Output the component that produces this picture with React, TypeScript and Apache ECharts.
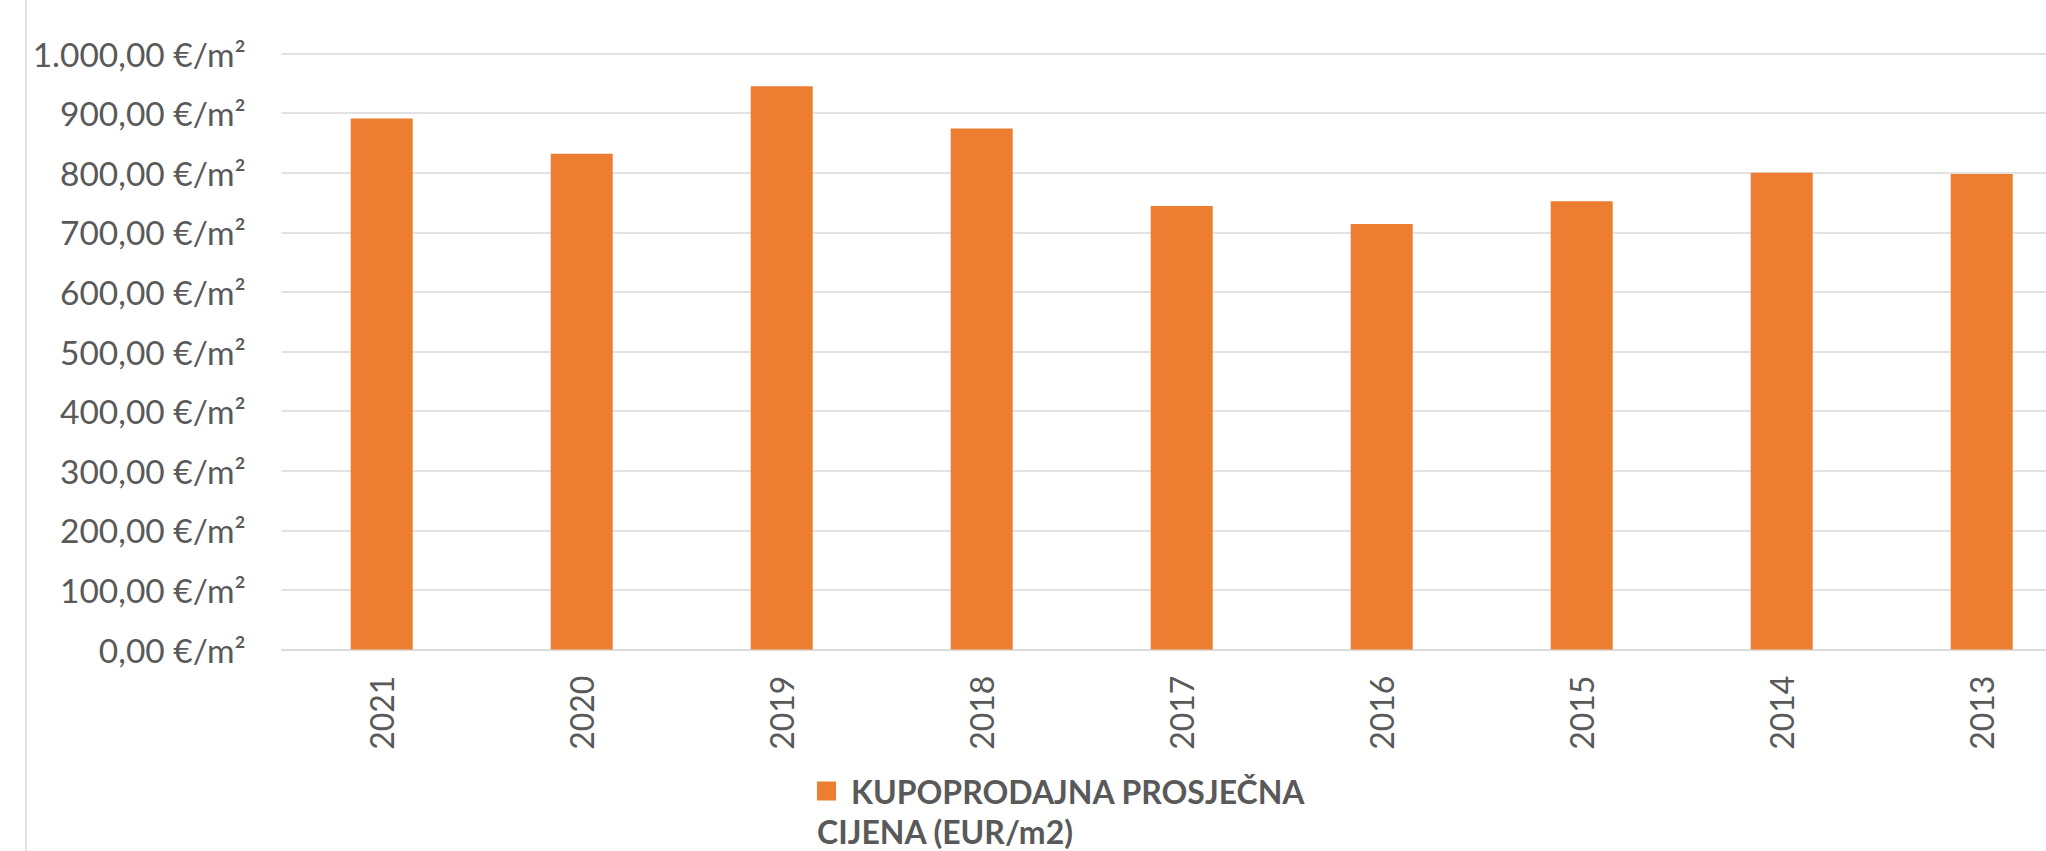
import React, { useEffect, useRef } from "react";
import * as echarts from "echarts";

const years = ["2021", "2020", "2019", "2018", "2017", "2016", "2015", "2014", "2013"];
const prices = [891, 832, 945, 874, 744, 714, 752, 800, 798];
const seriesName = "KUPOPRODAJNA PROSJEČNA CIJENA (EUR/m2)";
const legendLines = ["KUPOPRODAJNA PROSJEČNA", "CIJENA (EUR/m2)"];
const yMin = 0;
const yMax = 1000;
const yStep = 100;

function formatEuro(v: number): string {
  const fixed = v.toFixed(2);
  const [intPart, dec] = fixed.split(".");
  const withSep = intPart.replace(/\B(?=(\d{3})+(?!\d))/g, ".");
  return `${withSep},${dec} €/m²`;
}

export default function App() {
  const ref = useRef<HTMLDivElement>(null);
  useEffect(() => {
    if (!ref.current) return;
    const chart = echarts.init(ref.current, undefined, { renderer: "svg" });
    const font = "Lato, 'Open Sans', sans-serif";
    const barColor = "#ED7D31";
    const legendText = {
      fontFamily: font,
      fontSize: 32,
      fontWeight: "bold",
      color: "#595959",
      lineHeight: 40,
    };
    chart.setOption({
      animation: false,
      backgroundColor: "#ffffff",
      textStyle: { fontFamily: font },
      grid: { left: 281.7, top: 53.5, width: 1800, height: 596.1, containLabel: false },
      graphic: [
        {
          type: "line",
          shape: { x1: 26, y1: 0, x2: 26, y2: 851 },
          style: { stroke: "#d9d9d9", lineWidth: 1.5 },
          silent: true,
        },
      ],
      legend: {
        left: 812,
        top: 771,
        padding: 0,
        itemWidth: 0,
        itemHeight: 19,
        icon: "rect",
        itemStyle: { opacity: 0 },
        data: [seriesName],
        formatter: () =>
          `{sq| }{g| }{a|${legendLines[0]}}\n{a|${legendLines[1]}}`,
        textStyle: {
          ...legendText,
          rich: {
            sq: { width: 19, height: 19, backgroundColor: barColor, lineHeight: 40 },
            g: { ...legendText, width: 15 },
            a: { ...legendText },
          },
        },
      },
      xAxis: {
        type: "category",
        data: years,
        axisTick: { show: false },
        axisLine: { lineStyle: { color: "#d9d9d9", width: 1.5 } },
        axisLabel: {
          rotate: 90,
          margin: 26,
          fontFamily: font,
          fontSize: 32,
          color: "#595959",
        },
      },
      yAxis: {
        type: "value",
        min: yMin,
        max: yMax,
        interval: yStep,
        axisLine: { show: false },
        axisTick: { show: false },
        splitLine: { lineStyle: { color: "#d9d9d9", width: 1.5 } },
        axisLabel: {
          margin: 36,
          fontFamily: font,
          fontSize: 33.5,
          color: "#595959",
          formatter: (v: number) => formatEuro(v),
        },
      },
      series: [
        {
          name: seriesName,
          type: "bar",
          data: prices,
          barWidth: 62,
          itemStyle: { color: barColor },
        },
      ],
    });
    return () => chart.dispose();
  }, []);
  return (
    <div
      style={{
        position: "fixed",
        left: 0,
        top: 0,
        width: "2046px",
        height: "851px",
        overflow: "hidden",
        background: "#ffffff",
      }}
    >
      <div ref={ref} style={{ width: "2120px", height: "851px" }} />
    </div>
  );
}
